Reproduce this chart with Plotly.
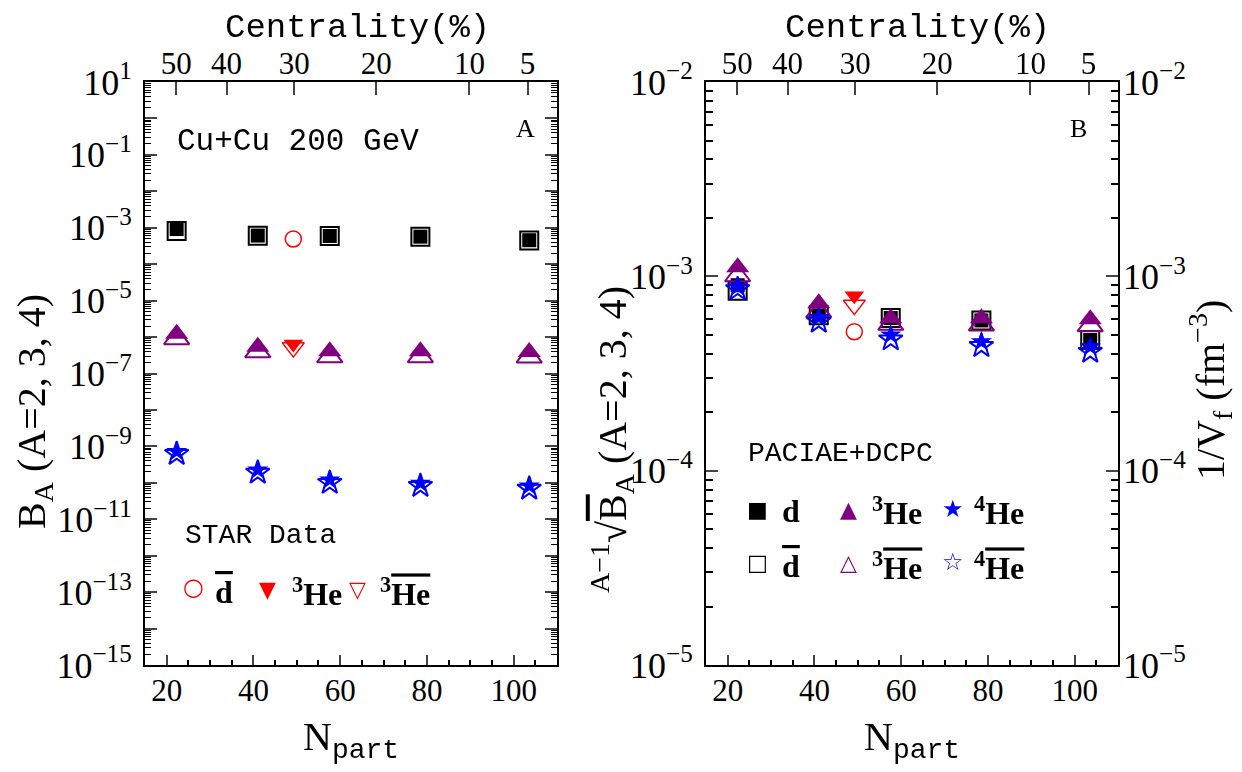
import plotly.graph_objects as go

# ---------------- data ----------------
npart = [22.3, 41.0, 57.6, 78.5, 103.6]
npart_star = [49.2]
cent_labels = ["50", "40", "30", "20", "10", "5"]
cent_npart = [22.2, 33.8, 49.4, 68.3, 89.8, 103.2]

# Panel A : B_A (PACIAE+DCPC)
BA_d = [9.2e-4, 6.1e-4, 5.95e-4, 5.7e-4, 4.55e-4]
BA_dbar = [8.2e-4, 6.05e-4, 5.9e-4, 5.65e-4, 4.5e-4]
BA_he3 = [1.24e-6, 5.44e-7, 4.07e-7, 4.07e-7, 3.89e-7]
BA_he3bar = [9.0e-7, 3.97e-7, 2.9e-7, 2.9e-7, 2.85e-7]
BA_he4 = [7.2e-10, 2.25e-10, 1.2e-10, 9.7e-11, 8.2e-11]
BA_he4bar = [6.2e-10, 1.9e-10, 1.0e-10, 8.2e-11, 6.9e-11]
# Panel A : STAR data
BA_star_dbar = [4.92e-4]
BA_star_he3 = [6.45e-7]
BA_star_he3bar = [5.14e-7]

# Panel B : (A-1)-th root of B_A
R_d = [9.0e-4, 6.3e-4, 6.1e-4, 5.93e-4, 4.7e-4]
R_dbar = [8.43e-4, 6.3e-4, 6.1e-4, 5.93e-4, 4.7e-4]
R_he3 = [1.112e-3, 7.27e-4, 6.08e-4, 6.08e-4, 6.01e-4]
R_he3bar = [1.007e-3, 6.57e-4, 5.66e-4, 5.62e-4, 5.57e-4]
R_he4 = [8.85e-4, 6.15e-4, 4.99e-4, 4.61e-4, 4.34e-4]
R_he4bar = [8.6e-4, 5.84e-4, 4.74e-4, 4.38e-4, 4.09e-4]
R_star_dbar = [5.19e-4]
R_star_he3 = [7.94e-4]
R_star_he3bar = [7.11e-4]

# ---------------- styles ----------------
W, H = 1242, 772
OFF = 8  # page body margin offset
BLACK, PURPLE, BLUE, RED = "#000000", "#800080", "#0000FF", "#FF0000"
SERIF = "Liberation Serif"
MONO = "Liberation Mono"

fig = go.Figure()


def add(x, y, sym, color, size, xa, ya, lw=0, opacity=1.0):
    fig.add_trace(go.Scatter(
        x=x, y=y, mode="markers", xaxis=xa, yaxis=ya, showlegend=False,
        hoverinfo="skip", opacity=opacity,
        marker=dict(symbol=sym, color=color, size=size,
                    line=dict(color=color, width=lw))))


for xa, ya, vals in [
    ("x", "y", (BA_d, BA_dbar, BA_he3, BA_he3bar, BA_he4, BA_he4bar,
                BA_star_dbar, BA_star_he3, BA_star_he3bar)),
    ("x2", "y2", (R_d, R_dbar, R_he3, R_he3bar, R_he4, R_he4bar,
                  R_star_dbar, R_star_he3, R_star_he3bar)),
]:
    d, dbar, he3, he3bar, he4, he4bar, sd, s3, s3b = vals
    add(npart, dbar, "square-open", BLACK, 18, xa, ya, 2)
    add(npart, d, "square", BLACK, 14, xa, ya)
    add(npart, he3bar, "triangle-up-open", PURPLE, 22, xa, ya, 2)
    add(npart, he3, "triangle-up", PURPLE, 20, xa, ya)
    add(npart, he4bar, "star-open", BLUE, 18, xa, ya, 2)
    add(npart, he4, "star", BLUE, 16, xa, ya)
    add(npart_star, sd, "circle-open", RED, 16, xa, ya, 1.5)
    add(npart_star, s3b, "triangle-down-open", RED, 19, xa, ya, 1.5)
    add(npart_star, s3, "triangle-down", RED, 17, xa, ya)

# invisible copies so that the secondary (top / right) axes get drawn
add(npart, BA_d, "square", BLACK, 1, "x3", "y", opacity=0)
add(npart, R_d, "square", BLACK, 1, "x4", "y2", opacity=0)
add(npart, R_d, "square", BLACK, 1, "x2", "y3", opacity=0)

# ---------------- axes ----------------
ytop, ybot = 82 - OFF, 665 - OFF
xdomA = [(145 - OFF) / W, (557 - OFF) / W]
xdomB = [(706 - OFF) / W, (1118 - OFF) / W]
ydom = [1 - ybot / H, 1 - ytop / H]

xtickfont = dict(family=SERIF, size=31, color="black")
ytickfont = dict(family=SERIF, size=36, color="black")


def sup(e):
    return "10<sup>" + (str(e).replace("-", "\u2212")) + "</sup>"


xbase = dict(range=[15, 110], tickvals=[20, 40, 60, 80, 100], ticks="inside",
             ticklen=10, tickwidth=1.5, showline=True, linewidth=2,
             linecolor="black", showgrid=False, zeroline=False, automargin=False,
             tickfont=xtickfont, ticklabelstandoff=-3,
             minor=dict(tickvals=[25, 30, 35, 45, 50, 55, 65, 70, 75, 85, 90, 95, 105],
                        ticks="inside", ticklen=5, tickwidth=1.5, tickcolor="black"))

xtop = dict(range=[15, 110], side="top", tickvals=cent_npart, ticktext=cent_labels,
            ticks="inside", ticklen=13, tickwidth=1.5, showline=True, linewidth=2,
            linecolor="black", showgrid=False, zeroline=False, automargin=False,
            tickfont=xtickfont, ticklabelstandoff=-6)

decA = list(range(-15, 2))
yA_vals = [10.0 ** e for e in decA]
yA_text = [sup(e) if (e % 2 != 0) else "" for e in decA]
yA_minor = [m * 10.0 ** e for e in range(-15, 1) for m in range(2, 10)]

decB = list(range(-5, -1))
yB_vals = [10.0 ** e for e in decB]
yB_text = [sup(e) for e in decB]
yB_minor = [m * 10.0 ** e for e in range(-5, -2) for m in range(2, 10)]

ybase = dict(type="log", ticks="inside", ticklen=12, tickwidth=1.5,
             showline=True, linewidth=2, linecolor="black", showgrid=False,
             zeroline=False, tickfont=ytickfont, tickmode="array",
             automargin=False, ticklabelstandoff=4)

fig.update_layout(
    width=W, height=H,
    margin=dict(l=0, r=0, t=0, b=0, pad=0, autoexpand=False),
    paper_bgcolor="white", plot_bgcolor="white", showlegend=False,
    xaxis=dict(xbase, domain=xdomA, anchor="y"),
    xaxis2=dict(xbase, domain=xdomB, anchor="y2"),
    xaxis3=dict(xtop, overlaying="x", anchor="y"),
    xaxis4=dict(xtop, overlaying="x2", anchor="y2"),
    yaxis=dict(ybase, domain=ydom, anchor="x", range=[-15, 1], mirror="ticks",
               tickvals=yA_vals, ticktext=yA_text,
               minor=dict(tickvals=yA_minor, ticks="inside", ticklen=6,
                          tickwidth=1, tickcolor="black")),
    yaxis2=dict(ybase, domain=ydom, anchor="x2", range=[-5, -2], mirror="ticks",
                tickvals=yB_vals, ticktext=yB_text,
                minor=dict(tickvals=yB_minor, ticks="inside", ticklen=7,
                           tickwidth=1.5, tickcolor="black")),
    yaxis3=dict(ybase, overlaying="y2", side="right", anchor="x2", range=[-5, -2],
                tickvals=yB_vals, ticktext=yB_text, ticks="", showline=False),
)

# ---------------- text ----------------
ann = []


def txt(x, y, text, size, family=SERIF, color="black", angle=0, xanchor="center"):
    ann.append(dict(x=(x - OFF) / W, y=1 - (y - OFF) / H, xref="paper", yref="paper",
                    text=text, showarrow=False,
                    font=dict(family=family, size=size, color=color),
                    textangle=angle, xanchor=xanchor, yanchor="middle"))


for cx in (357, 917):
    txt(cx, 28, "Centrality(%)", 34, MONO)
for cx in (351, 912):
    txt(cx, 740, "N<sub><span style='font-family:Liberation Mono'>part</span></sub>", 40)

OL = "<span style='text-decoration:overline'>%s</span>"
txt(34, 412, "B<sub>A</sub> (A=2, 3, 4)", 40, angle=-90)
txt(612, 440, "<sup>A\u22121</sup>\u221a" + OL % "B" + "<sub>A</sub> (A=2, 3, 4)", 40, angle=-90)
txt(1210, 390, "1/V<sub>f</sub> (fm<sup>\u22123</sup>)", 40, angle=-90)

txt(525, 128, "A", 26)
txt(1078, 128, "B", 26)
txt(298, 142, "Cu+Cu 200 GeV", 31, MONO)

# STAR legend
txt(183, 535, "STAR Data", 28, MONO, xanchor="left")
txt(193, 587, "\u25cb", 24, "DejaVu Sans", RED)
txt(224, 592, "<b>" + OL % "d" + "</b>", 32)
txt(267, 589, "\u25bc", 22, "DejaVu Sans", RED)
txt(290, 592, "<b><sup>3</sup>He</b>", 32, xanchor="left")
txt(358, 589, "\u25bd", 22, "DejaVu Sans", RED)
txt(378, 592, "<b><sup>3</sup>" + OL % "He" + "</b>", 32, xanchor="left")

# PACIAE legend
txt(746, 453, "PACIAE+DCPC", 28, MONO, xanchor="left")
txt(757, 509, "\u25a0", 22, "DejaVu Sans", BLACK)
txt(791, 511, "<b>d</b>", 32)
txt(848, 509, "\u25b2", 22, "DejaVu Sans", PURPLE)
txt(870, 511, "<b><sup>3</sup>He</b>", 32, xanchor="left")
txt(953, 509, "\u2605", 24, "DejaVu Sans", BLUE)
txt(972, 511, "<b><sup>4</sup>He</b>", 32, xanchor="left")
txt(757, 562, "\u25a1", 22, "DejaVu Sans", BLACK)
txt(791, 566, "<b>" + OL % "d" + "</b>", 32)
txt(848, 562, "\u25b3", 22, "DejaVu Sans", PURPLE)
txt(870, 566, "<b><sup>3</sup>" + OL % "He" + "</b>", 32, xanchor="left")
txt(953, 562, "\u2606", 24, "DejaVu Sans", BLUE)
txt(972, 566, "<b><sup>4</sup>" + OL % "He" + "</b>", 32, xanchor="left")

fig.update_layout(annotations=ann)
fig.write_html("out.html")
